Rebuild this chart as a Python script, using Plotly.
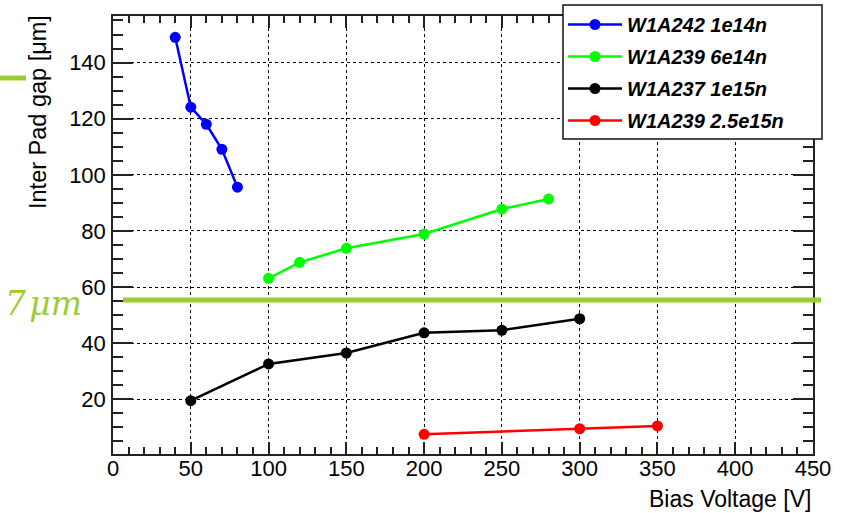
import plotly.graph_objects as go

# ---- data ----
names = ["W1A242 1e14n", "W1A239 6e14n", "W1A237 1e15n", "W1A239 2.5e15n"]
colors = ["#0000FF", "#00FF00", "#000000", "#FF0000"]

x_w1a242 = [40, 50, 60, 70, 80]
y_w1a242 = [149.0, 124.1, 118.0, 109.1, 95.6]

x_w1a239_6e14 = [100, 120, 150, 200, 250, 280]
y_w1a239_6e14 = [63.1, 68.8, 73.8, 78.9, 87.8, 91.4]

x_w1a237 = [50, 100, 150, 200, 250, 300]
y_w1a237 = [19.5, 32.6, 36.5, 43.7, 44.6, 48.7]

x_w1a239_25e15 = [200, 300, 350]
y_w1a239_25e15 = [7.5, 9.5, 10.5]

threshold_um = 55.4
threshold_label = "7\u200a\u03bcm"

series = [
    (x_w1a242, y_w1a242),
    (x_w1a239_6e14, y_w1a239_6e14),
    (x_w1a237, y_w1a237),
    (x_w1a239_25e15, y_w1a239_25e15),
]

fig = go.Figure()
for i, ((xs, ys), nm, c) in enumerate(zip(series, names, colors)):
    fig.add_trace(go.Scatter(
        x=xs, y=ys, name=nm, mode="lines+markers",
        line=dict(color=c, width=2.5),
        marker=dict(color=c, size=11, symbol="circle"),
        legendgroup=f"g{i}",
    ))

W, H = 851, 513
L, R, T, B = 113, 38, 16, 59
pw, ph = W - L - R, H - T - B


def px(xp):
    return (xp - L) / pw


def py(yp):
    return (H - B - yp) / ph


axis_common = dict(
    showline=True, linecolor="#222", linewidth=1.5, mirror="allticks",
    ticks="inside", tickcolor="#222", tickwidth=1.5,
    showgrid=True, gridcolor="#000", griddash="dot", gridwidth=1,
    zeroline=False,
)

fig.update_layout(
    width=W, height=H,
    margin=dict(l=L, r=R, t=T, b=B, autoexpand=False),
    paper_bgcolor="white", plot_bgcolor="white",
    xaxis=dict(range=[0, 450], dtick=50, tick0=0, ticklen=12,
               minor=dict(dtick=10, ticklen=7, ticks="inside", tickcolor="#222", tickwidth=1.5, showgrid=False),
               ticklabelstandoff=-6,
               **axis_common),
    yaxis=dict(range=[0.5, 156.6], dtick=20, tick0=0, ticklen=20,
               minor=dict(dtick=5, ticklen=10, ticks="inside", tickcolor="#222", tickwidth=1.5, showgrid=False),
               ticklabelstandoff=1,
               **axis_common),
    showlegend=True,
    legend=dict(
        x=px(563), y=py(5), xanchor="left", yanchor="top",
        bgcolor="rgba(0,0,0,0)", borderwidth=0,
        font=dict(family="Liberation Sans, Arial, sans-serif", size=20, color="#000",
                  weight="bold", style="italic"),
        traceorder="grouped", tracegroupgap=3,
        itemwidth=54,
    ),
)
tick_font = dict(family="Liberation Sans", size=22, color="#000")
fig.update_xaxes(tickfont=tick_font)
fig.update_yaxes(tickfont=tick_font)

# legend frame (drawn behind the legend entries, above the data)
fig.add_shape(type="rect", xref="paper", yref="paper",
              x0=px(563), x1=px(822), y0=py(139), y1=py(5),
              line=dict(color="#111", width=1.5), fillcolor="white", layer="above")

# axis titles
fig.add_annotation(
    text="Bias Voltage [V]", xref="paper", yref="paper",
    x=px(813), y=py(484), xanchor="right", yanchor="top", showarrow=False,
    font=dict(family="Liberation Sans, Arial, sans-serif", size=23, color="#000"),
)
fig.add_annotation(
    text="Inter Pad gap [\u03bcm]", xref="paper", yref="paper",
    x=px(38), y=py(13), xanchor="center", yanchor="top", textangle=-90, showarrow=False,
    font=dict(family="Liberation Sans, Arial, sans-serif", size=23.5, color="#000"),
)

# overlay decoration (slide annotation)
overlay = "#9ACD32"
fig.add_shape(type="line", xref="paper", yref="y", x0=px(123), x1=px(821),
              y0=threshold_um, y1=threshold_um, line=dict(color=overlay, width=5), layer="above")
fig.add_shape(type="line", xref="paper", yref="paper", x0=px(0), x1=px(26),
              y0=py(78), y1=py(78), line=dict(color=overlay, width=5), layer="above")
fig.add_annotation(
    text=f"<i>{threshold_label}</i>", xref="paper", yref="paper",
    x=px(84), y=py(303), xanchor="right", yanchor="middle", showarrow=False,
    font=dict(family="DejaVu Serif, serif", size=33, color=overlay),
)

fig.write_html("out.html")
